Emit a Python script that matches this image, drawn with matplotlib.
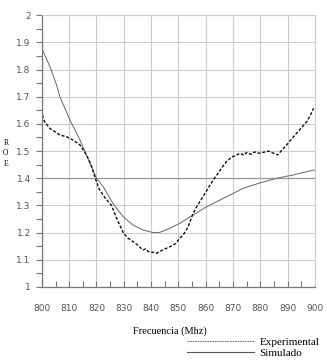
import numpy as np
import matplotlib.pyplot as plt
from matplotlib.ticker import MultipleLocator
from matplotlib.lines import Line2D

# Datos
freq_exp = [800, 800.5, 801, 803, 805, 806.6, 809, 811.5, 814, 816.4, 818, 819.4, 821,
            823, 825.5, 827.5, 829.8, 831.5, 833.4, 835, 837, 838, 839, 840.5, 842, 844, 846.9,
            849, 850.5, 852, 853.5, 855.4, 857, 859, 861, 862.7, 864.6, 866, 867.6, 869.5,
            871.3, 872.5, 874, 875, 876.5, 878, 879, 881, 883, 884.6, 886.4, 888, 889.6, 891.5,
            893.3, 895, 897, 898.5, 899.5]
roe_exp = [1.65, 1.62, 1.608, 1.583, 1.57, 1.559, 1.553, 1.54, 1.522, 1.485, 1.45, 1.405, 1.36,
           1.33, 1.30, 1.25, 1.20, 1.18, 1.167, 1.155, 1.136, 1.14, 1.13, 1.128, 1.124, 1.135,
           1.148, 1.16, 1.179, 1.195, 1.22, 1.271, 1.30, 1.332, 1.365, 1.393, 1.419, 1.44, 1.461,
           1.478, 1.485, 1.492, 1.485, 1.495, 1.488, 1.497, 1.492, 1.495, 1.50, 1.493, 1.486,
           1.505, 1.522, 1.545, 1.566, 1.585, 1.608, 1.635, 1.658]

freq_sim = [800, 803, 805.4, 806.6, 810.3, 814, 817.6, 820, 822.5, 826, 829.8, 833.4, 837,
            840.8, 843.2, 846.9, 850.5, 855.4, 860.3, 867.6, 873.7, 879.9, 886, 892, 899.4, 900]
roe_sim = [1.877, 1.81, 1.743, 1.70, 1.614, 1.54, 1.455, 1.40, 1.369, 1.308, 1.258, 1.228, 1.21,
           1.20, 1.201, 1.216, 1.234, 1.265, 1.295, 1.332, 1.363, 1.383, 1.40, 1.412, 1.43, 1.43]

fig = plt.figure(figsize=(3.27, 3.61), dpi=100)
ax = fig.add_axes([0.128, 0.205, 0.835, 0.753])

ax.plot(freq_sim, roe_sim, color='#666666', linewidth=0.7, label='Simulado')
ax.plot(freq_exp, roe_exp, color='#111111', linewidth=1.0, dashes=(2.2, 1.3), label='Experimental')

ax.set_xlim(800, 900)
ax.set_ylim(1, 2)
ax.xaxis.set_major_locator(MultipleLocator(10))
ax.xaxis.set_minor_locator(MultipleLocator(5))
ax.yaxis.set_major_locator(MultipleLocator(0.1))
ax.yaxis.set_minor_locator(MultipleLocator(0.05))
ax.set_yticks(np.arange(1, 2.01, 0.1))
ax.set_yticklabels(['1', '1.1', '1.2', '1.3', '1.4', '1.5', '1.6', '1.7', '1.8', '1.9', '2'])

ax.grid(True, which='major', color='#cccccc', linewidth=0.8)
ax.axhline(1.4, color='#999999', linewidth=0.9, zorder=1)
ax.set_axisbelow(True)

for s in ['top', 'right']:
    ax.spines[s].set_color('#cccccc')
for s in ['left', 'bottom']:
    ax.spines[s].set_color('#777777')
    ax.spines[s].set_linewidth(0.9)

ax.tick_params(axis='y', which='both', direction='out', length=4, width=0.8,
               color='#777777', labelsize=6.5, labelcolor='#555555', pad=4)
ax.tick_params(axis='x', which='both', direction='in', length=4, width=0.8,
               color='#777777', labelsize=6.5, labelcolor='#555555', pad=12)

ax.set_xlabel('Frecuencia (Mhz)', fontfamily='Liberation Serif', fontsize=7.5,
              labelpad=10, x=0.47)
fig.text(0.018, 0.575, 'R\nO\nE', fontfamily='Liberation Serif', fontsize=5.5,
         ha='center', va='center', linespacing=1.4)

handles = [Line2D([], [], color='#555555', linewidth=0.6, linestyle=(0, (2, 1))),
           Line2D([], [], color='#555555', linewidth=0.8)]
fig.legend(handles, ['Experimental', 'Simulado'], loc='lower right',
           bbox_to_anchor=(1.0, -0.014), frameon=False, handlelength=6,
           prop={'family': 'Liberation Serif', 'size': 8}, labelspacing=0.1,
           handletextpad=0.5, borderaxespad=0.3)

plt.savefig('out.png', dpi=100)
